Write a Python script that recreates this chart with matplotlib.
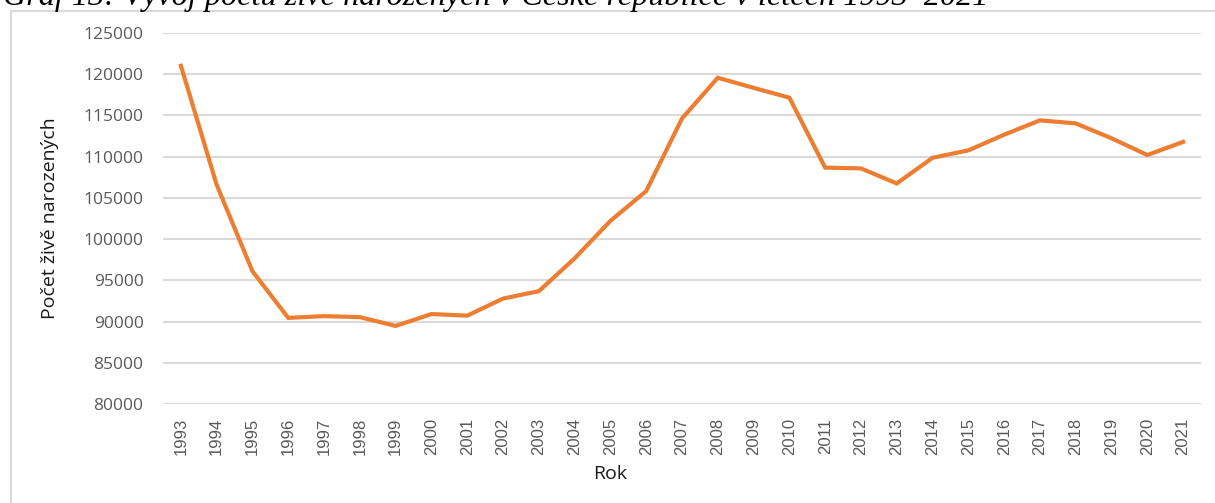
import matplotlib
matplotlib.use('Agg')
import matplotlib.pyplot as plt
from matplotlib.lines import Line2D

years = list(range(1993, 2022))
births = [121025, 106579, 96097, 90446, 90657, 90535, 89471, 90910, 90715, 92786,
          93685, 97664, 102211, 105831, 114632, 119570, 118348, 117153, 108673, 108576,
          106751, 109860, 110764, 112663, 114405, 114036, 112231, 110200, 111793]
y_ticks = list(range(80000, 125001, 5000))

title = 'Graf 13: Vývoj počtu živě narozených v České republice v letech 1993–2021'

fig = plt.figure(figsize=(12.15, 5.03), dpi=100)
ax = fig.add_axes([163/1215, 1 - 404/503, (1201 - 163)/1215, (404 - 33)/503])

x = list(range(len(years)))
ax.plot(x, births, color='#ED7D31', lw=3, solid_joinstyle='miter', zorder=3)

ax.set_xlim(-0.5, len(years) - 0.5)
ax.set_ylim(80000, 125000)
ax.set_yticks(y_ticks)
ax.set_yticklabels([str(v) for v in y_ticks], family='Open Sans', fontsize=12.5, color='#595959')
ax.set_xticks(x)
ax.set_xticklabels([str(y) for y in years], rotation=90, family='Liberation Sans',
                   fontsize=12, color='#595959')
ax.tick_params(axis='y', length=0, pad=14)
ax.tick_params(axis='x', length=0, pad=10)
ax.grid(axis='y', color='#d9d9d9', lw=1.5)
ax.set_axisbelow(True)
for s in ax.spines.values():
    s.set_visible(False)

ax.set_ylabel('Počet živě narozených', family='Open Sans', fontsize=14, color='#1a1a1a', labelpad=18)
ax.set_xlabel('Rok', family='Open Sans', fontsize=14, color='#1a1a1a', labelpad=6)
ax.xaxis.set_label_coords((610 - 163) / 1038, -0.165)

# outer chart frame (left and top edges visible)
fig.add_artist(Line2D([11/1215, 11/1215, 1.0], [0, 1 - 11/503, 1 - 11/503],
                      transform=fig.transFigure, color='#d9d9d9', lw=1.5))

# cropped caption above the chart
fig.text(3/1215, 1 - 5/503, title, family='Liberation Serif', style='italic',
         fontsize=23.2, va='baseline', ha='left', color='black')

fig.savefig('out.png', dpi=100)
